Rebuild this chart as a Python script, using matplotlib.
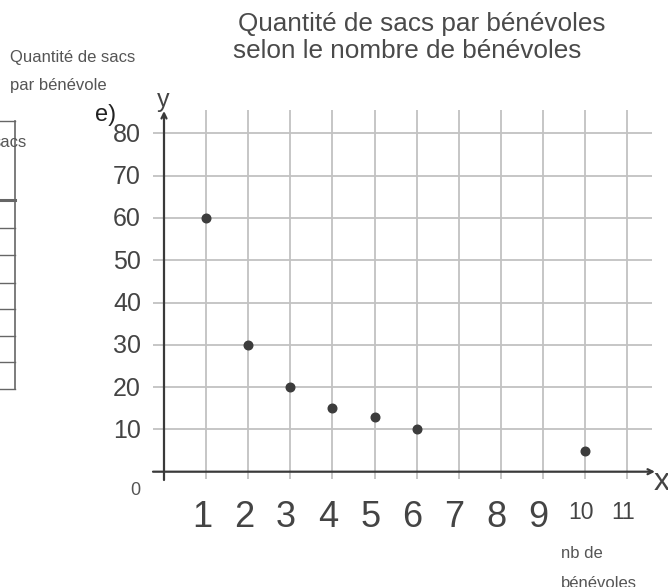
import matplotlib
matplotlib.use("Agg")
from matplotlib import pyplot as plt
from matplotlib.lines import Line2D

plt.rcParams['font.family'] = ['Liberation Sans', 'DejaVu Sans']

#======Data======
benevoles = [1, 2, 3, 4, 5, 6, 10]
sacs = [60, 30, 20, 15, 13, 10, 5]
x_ticks = list(range(1, 12))
y_ticks = [10, 20, 30, 40, 50, 60, 70, 80]
title_lines = ["Quantité de sacs par bénévoles", "selon le nombre de bénévoles"]
#================

W, H = 668, 587
# pixel position of the origin and pixel size of one unit
X0, SX = 164.0, 42.1
Y0, SY = 471.7, 4.23

def dx(p):  # pixel column -> data x
    return (p - X0) / SX

def dy(p):  # pixel row -> data y
    return (Y0 - p) / SY

def fx(p):
    return p / W

def fy(p):
    return 1 - p / H

fig = plt.figure(figsize=(W / 100, H / 100), dpi=100)
ax = fig.add_axes([0, 0, 1, 1])
ax.set_xlim(dx(0), dx(W))
ax.set_ylim(dy(H), dy(0))
ax.set_axis_off()

grid_col = '#c2c2c2'
dark = '#3a3a3a'

# grid
ax.vlines(x_ticks, dy(479), dy(110), color=grid_col, lw=1.3, zorder=1)
ax.hlines(y_ticks, dx(153), dx(652), color=grid_col, lw=1.3, zorder=1)

# axes with arrows
ax.annotate('', xy=(dx(655), 0), xytext=(dx(153), 0),
            arrowprops=dict(arrowstyle='->', color=dark, lw=1.6, mutation_scale=9,
                            shrinkA=0, shrinkB=0), zorder=3)
ax.annotate('', xy=(0, dy(111)), xytext=(0, dy(480)),
            arrowprops=dict(arrowstyle='->', color=dark, lw=1.6, mutation_scale=9,
                            shrinkA=0, shrinkB=0), zorder=3)

# points
ax.plot(benevoles, sacs, 'o', color='#3c3c3c', markersize=6.2, zorder=4)

# tick labels
for v in y_ticks:
    ax.text(dx(141), v - 2.0, str(v), ha='right', va='baseline',
            fontsize=18, color='#444444')
ax.text(dx(135), dy(495), '0', ha='center', va='baseline', fontsize=13, color='#555555')
for n in x_ticks:
    if n < 10:
        ax.text(n - 0.1, dy(527), str(n), ha='center', va='baseline',
                fontsize=26, color='#444444')
    else:
        ax.text(n - 0.1, dy(519), str(n), ha='center', va='baseline',
                fontsize=16.5, color='#444444')

ax.text(dx(662), dy(490), 'x', ha='center', va='baseline', fontsize=23, color='#444444')
ax.text(dx(163), dy(107), 'y', ha='center', va='baseline', fontsize=18, color='#444444')
fig.text(fx(95), fy(121), 'e)', ha='left', va='baseline', fontsize=17, color='#222222')

# title
fig.text(fx(238), fy(31), title_lines[0], ha='left', va='baseline', fontsize=18.8, color='#4a4a4a')
fig.text(fx(233), fy(58), title_lines[1], ha='left', va='baseline', fontsize=18.8, color='#4a4a4a')

# side notes
small = '#555555'
fig.text(fx(10), fy(62), 'Quantité de sacs', ha='left', va='baseline', fontsize=12, color=small)
fig.text(fx(10), fy(90), 'par bénévole', ha='left', va='baseline', fontsize=12, color=small)
fig.text(fx(561), fy(558), 'nb de', ha='left', va='baseline', fontsize=12, color=small)
fig.text(fx(561), fy(588), 'bénévoles', ha='left', va='baseline', fontsize=12, color=small)

# cut-off table on the left
tcol = '#666666'
fig.add_artist(Line2D([fx(14.5), fx(14.5)], [fy(121), fy(389)], color=tcol, lw=1.2))
for r in [121, 228, 255, 283, 309, 336, 362, 389]:
    fig.add_artist(Line2D([0, fx(14.5)], [fy(r), fy(r)], color=tcol, lw=1.0))
fig.add_artist(Line2D([0, fx(14.5)], [fy(200), fy(200)], color=tcol, lw=2.2))
fig.text(fx(27), fy(147), 'sacs', ha='right', va='baseline', fontsize=12, color=small)

fig.savefig('out.png', dpi=100)
